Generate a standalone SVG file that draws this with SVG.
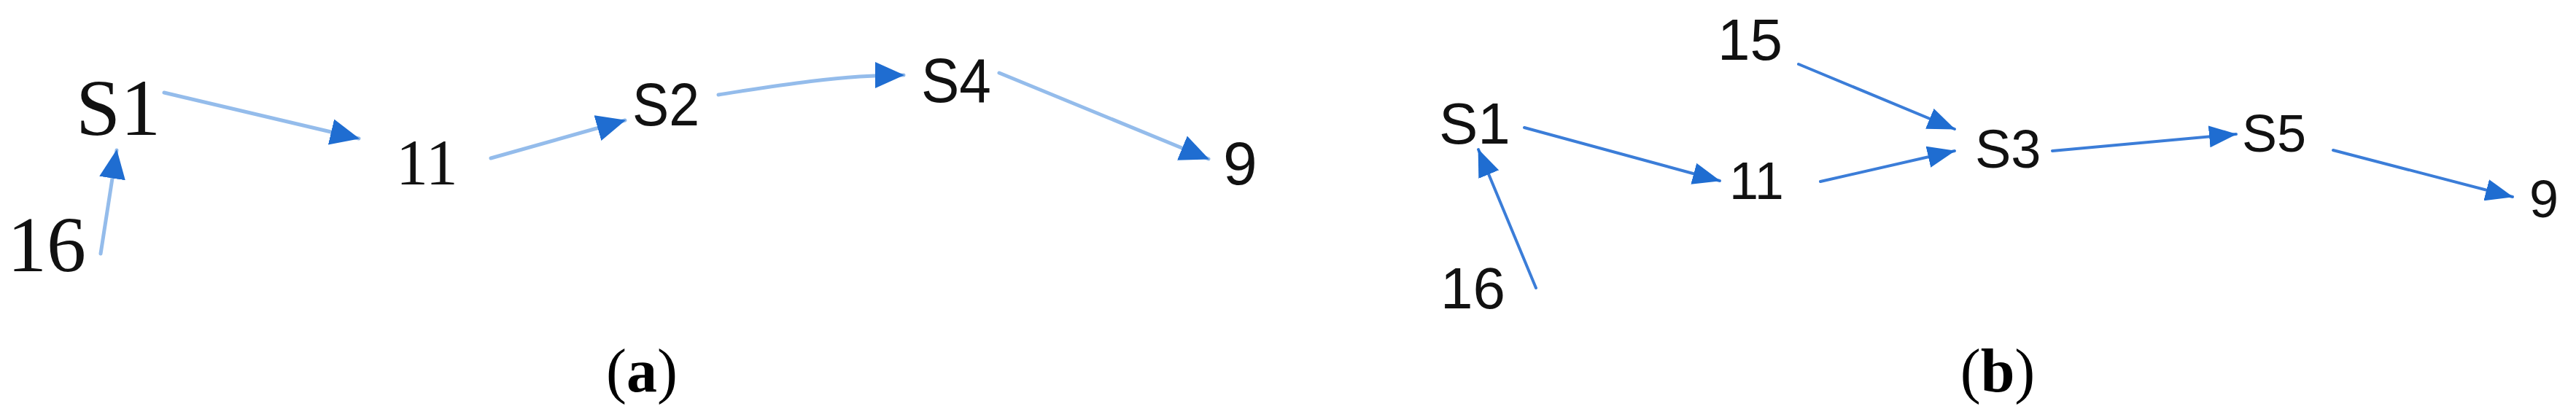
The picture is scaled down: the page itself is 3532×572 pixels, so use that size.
<svg xmlns="http://www.w3.org/2000/svg" width="3532" height="572" viewBox="0 0 3532 572">
<defs>
<style>
.serif{font-family:"Liberation Serif","Times New Roman",serif;fill:#111}
.sans{font-family:"Liberation Sans",Arial,sans-serif;fill:#111}
.cap{font-family:"Liberation Serif","Times New Roman",serif;font-size:84px;fill:#000}
.ea{fill:none;stroke:#94BCEB;stroke-width:5;stroke-linecap:round}
.eb{fill:none;stroke:#3B7DD8;stroke-width:4;stroke-linecap:round}
</style>
<marker id="ah" viewBox="0 0 38 30" refX="37" refY="15" markerWidth="38" markerHeight="30" markerUnits="userSpaceOnUse" orient="auto">
<path d="M0,0 L38,15 L0,30 z" fill="#1F6DD1"/>
</marker>
<marker id="aha" viewBox="0 0 40 36" refX="39" refY="18" markerWidth="40" markerHeight="36" markerUnits="userSpaceOnUse" orient="auto">
<path d="M0,0 L40,18 L0,36 z" fill="#1F6DD1"/>
</marker>
</defs>
<rect width="3532" height="572" fill="#fff"/>
<g id="connectors">
<path class="ea" d="M138,348 L160,206" marker-end="url(#aha)"/>
<path class="ea" d="M225,127 L492,190" marker-end="url(#aha)"/>
<path class="ea" d="M673,217 L857,165" marker-end="url(#aha)"/>
<path class="ea" d="M985,130 C1060,118 1150,103 1239,103" marker-end="url(#aha)"/>
<path class="ea" d="M1370,100 L1657,218" marker-end="url(#aha)"/>
<path class="eb" d="M2106,395 L2027,205" marker-end="url(#ah)"/>
<path class="eb" d="M2090,175 L2358,248" marker-end="url(#ah)"/>
<path class="eb" d="M2466,88 L2680,177" marker-end="url(#ah)"/>
<path class="eb" d="M2496,249 L2680,207" marker-end="url(#ah)"/>
<path class="eb" d="M2814,207 L3066,184" marker-end="url(#ah)"/>
<path class="eb" d="M3199,206 L3445,270" marker-end="url(#ah)"/>
</g>
<g id="a-S1"><text class="serif" x="104" y="185" font-size="110">S1</text></g>
<g id="a-16"><text class="serif" x="10" y="372" font-size="108">16</text></g>
<g id="a-11"><text class="serif" x="543" y="252" font-size="88">11</text></g>
<g id="a-S2"><text class="sans" x="867" y="172" font-size="84" textLength="92" lengthAdjust="spacingAndGlyphs">S2</text></g>
<g id="a-S4"><text class="sans" x="1263" y="140" font-size="86" textLength="96" lengthAdjust="spacingAndGlyphs">S4</text></g>
<g id="a-9"><text class="sans" x="1677" y="253" font-size="84">9</text></g>
<g id="b-15"><text class="sans" x="2355" y="82" font-size="80">15</text></g>
<g id="b-S1"><text class="sans" x="1973" y="197" font-size="80">S1</text></g>
<g id="b-16"><text class="sans" x="1975" y="423" font-size="80">16</text></g>
<g id="b-11"><text class="sans" x="2371" y="273" font-size="72">11</text></g>
<g id="b-S3"><text class="sans" x="2708" y="230" font-size="74">S3</text></g>
<g id="b-S5"><text class="sans" x="3074" y="208" font-size="72">S5</text></g>
<g id="b-9"><text class="sans" x="3468" y="298" font-size="72">9</text></g>
<g id="caption-a"><text class="cap" x="880" y="537" text-anchor="middle">(<tspan font-weight="bold">a</tspan>)</text></g>
<g id="caption-b"><text class="cap" x="2739" y="537" text-anchor="middle">(<tspan font-weight="bold">b</tspan>)</text></g>
</svg>
